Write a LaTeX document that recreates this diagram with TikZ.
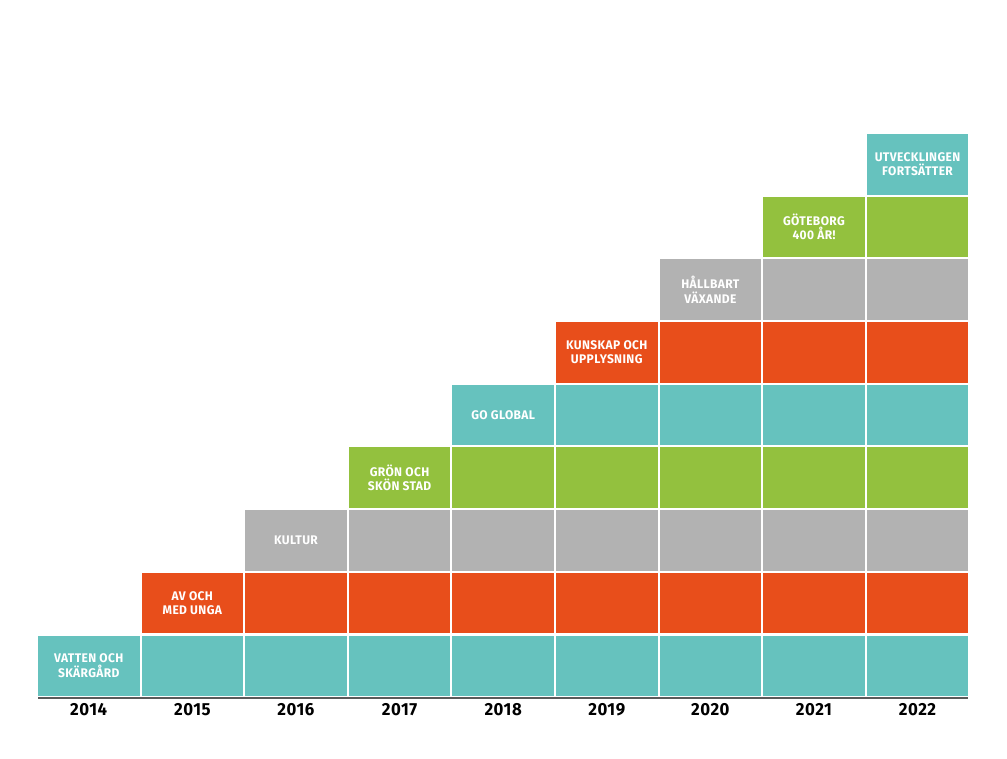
\documentclass[tikz,border=0pt]{standalone}
\usepackage{fontspec}
\setmainfont[FakeStretch=0.96, LetterSpace=3]{Fira Sans}
\usetikzlibrary{positioning}
\definecolor{cell0}{HTML}{66C2BE}
\definecolor{cell1}{HTML}{E84E1B}
\definecolor{cell2}{HTML}{B2B2B2}
\definecolor{cell3}{HTML}{93C13E}
\definecolor{axisgray}{HTML}{5A5A5A}
\tikzset{
  cell/.style={minimum width=101.5pt, minimum height=60.5pt, inner sep=0pt, outer sep=0pt, anchor=south west},
  celltext/.style={text=white, font=\bfseries\fontsize{12.5}{14.5}\selectfont, align=center, inner sep=0pt},
  yearlabel/.style={font=\bfseries\fontsize{17.5}{19}\selectfont, inner sep=0pt}
}
\begin{document}
\begin{tikzpicture}[x=1pt,y=-1pt]
  \useasboundingbox (0,0) rectangle (1007,758);
  % staircase of cells, one column per year
  \foreach \c in {0,...,8} {
    \foreach \r in {0,...,\c} {
      \pgfmathtruncatemacro\k{mod(\r,4)}
      \node[cell, fill=cell\k] (c\c-\r) at ({38+\c*103.6},{696-\r*62.67}) {};
    }
  }
  % theme on top of each column
  \foreach \c/\txt in {0/{VATTEN OCH\\SKÄRGÅRD}, 1/{AV OCH\\MED UNGA}, 2/{KULTUR},
      3/{GRÖN OCH\\SKÖN STAD}, 4/{GO GLOBAL}, 5/{KUNSKAP OCH\\UPPLYSNING},
      6/{HÅLLBART\\VÄXANDE}, 7/{GÖTEBORG\\400 ÅR!}, 8/{UTVECKLINGEN\\FORTSÄTTER}} {
    \node[celltext] (lab\c) at (c\c-\c) {\txt};
  }
  % axis and years
  \draw[axisgray, line width=1.6pt] ([yshift=-2pt]c0-0.south west) -- ([yshift=-2pt]c8-0.south east);
  \foreach \c in {0,...,8} {
    \pgfmathtruncatemacro\yr{2014+\c}
    \node[yearlabel, below=7pt of c\c-0] (year\c) {\yr};
  }
\end{tikzpicture}
\end{document}
